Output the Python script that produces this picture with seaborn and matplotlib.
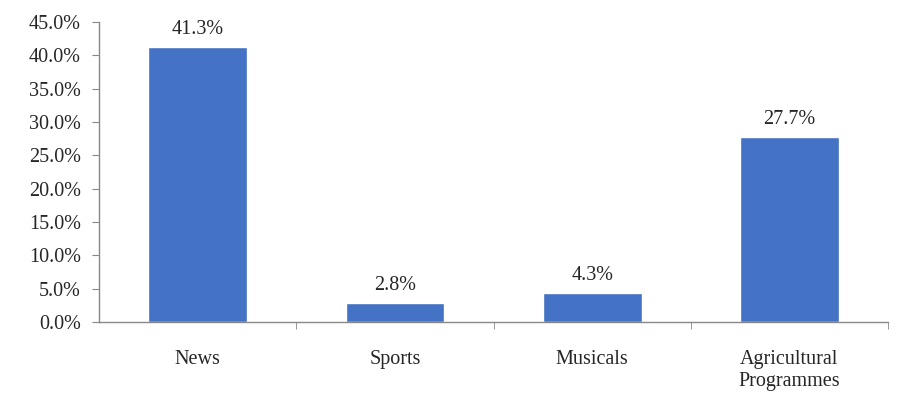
import matplotlib
matplotlib.use("Agg")
import matplotlib.pyplot as plt
import seaborn as sns
import pandas as pd
from matplotlib.ticker import FuncFormatter, FixedLocator

categories = ["News", "Sports", "Musicals", "Agricultural\nProgrammes"]
values = [41.3, 2.8, 4.3, 27.7]

sns.set_style("white")
plt.rcParams['font.family'] = ['Liberation Serif', 'DejaVu Serif']

df = pd.DataFrame({"category": categories, "value": values})

fig = plt.figure(figsize=(9.09, 4.03), dpi=100)
ax = fig.add_axes([0.109, 0.201, 0.868, 0.744])
sns.barplot(data=df, x="category", y="value", color="#4472C4", width=0.5,
            saturation=1, ax=ax)

ax.set_xlim(-0.5, len(categories) - 0.5)
ax.set_ylim(0, 45)
ax.set_yticks([i * 5 for i in range(10)])
ax.yaxis.set_major_formatter(FuncFormatter(lambda v, p: f"{v:.1f}%"))
ax.set_xlabel("")
ax.set_ylabel("")

for s in ["top", "right"]:
    ax.spines[s].set_visible(False)
for s in ["left", "bottom"]:
    ax.spines[s].set_color("#888888")
    ax.spines[s].set_linewidth(1)

ax.tick_params(axis="y", which="major", length=5, color="#888888", direction="out",
               labelsize=14.5, pad=8, left=True)
ax.tick_params(axis="x", which="major", length=0, labelsize=14.5, pad=20)
for lab in ax.get_xticklabels():
    lab.set_linespacing(1.2)
ax.xaxis.set_minor_locator(FixedLocator([i + 0.5 for i in range(len(categories))]))
ax.tick_params(axis="x", which="minor", length=5, color="#888888", direction="out", bottom=True)

for i, v in enumerate(values):
    ax.text(i, v + 1.2, f"{v:.1f}%", ha="center", va="bottom", fontsize=14.5)

fig.savefig("out.png", dpi=100)
